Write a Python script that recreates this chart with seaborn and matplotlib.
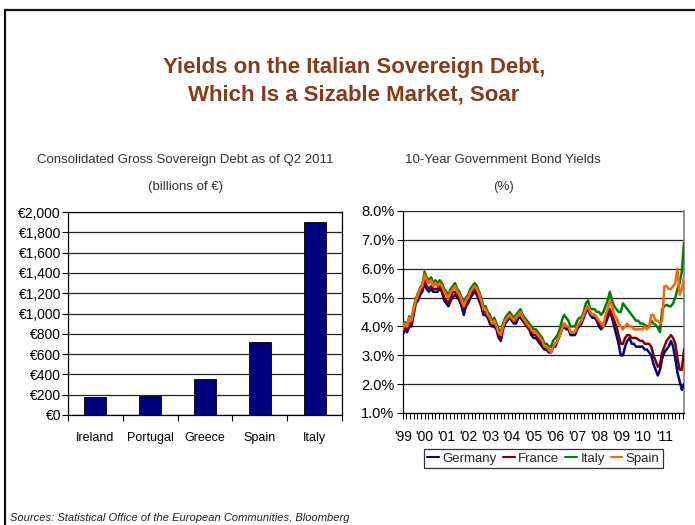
import numpy as np
import pandas as pd
import matplotlib
matplotlib.use("Agg")
import matplotlib.pyplot as plt
from matplotlib.lines import Line2D
from matplotlib.ticker import FuncFormatter, MultipleLocator, FixedLocator
import seaborn as sns

# ---------------- data ----------------
countries = ["Ireland", "Portugal", "Greece", "Spain", "Italy"]
debt_bn_eur = [177, 188, 356, 718, 1905]

# bond yields sampled every 0.1 year from 1999.0 to 2011.9
start_year = 1999.0
step_year = 0.1
germany = [
    3.7, 3.9, 3.8, 4.0, 4.0, 4.4, 4.8, 4.9, 5.1, 5.2,
    5.5, 5.3, 5.2, 5.3, 5.2, 5.2, 5.2, 5.3, 5.2, 4.9,
    4.8, 4.7, 4.9, 5.0, 5.1, 5.0, 4.9, 4.7, 4.4, 4.7,
    4.8, 5.0, 5.1, 5.2, 5.1, 4.9, 4.7, 4.4, 4.4, 4.3,
    4.1, 4.0, 4.0, 3.9, 3.6, 3.5, 3.9, 4.1, 4.2, 4.3,
    4.2, 4.1, 4.1, 4.3, 4.3, 4.2, 4.1, 4.0, 3.9, 3.7,
    3.6, 3.6, 3.5, 3.4, 3.3, 3.2, 3.2, 3.1, 3.1, 3.3,
    3.3, 3.5, 3.7, 3.9, 4.0, 3.9, 3.9, 3.7, 3.7, 3.7,
    3.9, 4.0, 4.1, 4.3, 4.5, 4.6, 4.4, 4.3, 4.3, 4.2,
    4.0, 3.9, 4.0, 4.1, 4.3, 4.5, 4.3, 4.0, 3.7, 3.4,
    3.0, 3.0, 3.3, 3.5, 3.6, 3.4, 3.4, 3.3, 3.3, 3.3,
    3.3, 3.2, 3.2, 3.1, 3.0, 2.7, 2.5, 2.3, 2.5, 2.9,
    3.1, 3.2, 3.3, 3.5, 3.3, 2.9, 2.4, 2.1, 1.8, 2.0,
]
france = [
    3.8, 4.0, 3.9, 4.1, 4.1, 4.5, 4.9, 5.0, 5.2, 5.3,
    5.6, 5.4, 5.3, 5.4, 5.3, 5.3, 5.3, 5.4, 5.3, 5.0,
    4.9, 4.8, 5.0, 5.2, 5.2, 5.1, 5.0, 4.8, 4.6, 4.8,
    4.9, 5.1, 5.2, 5.3, 5.2, 5.0, 4.8, 4.5, 4.5, 4.4,
    4.2, 4.1, 4.1, 4.0, 3.7, 3.6, 4.0, 4.2, 4.3, 4.3,
    4.3, 4.2, 4.2, 4.4, 4.4, 4.3, 4.1, 4.0, 3.9, 3.8,
    3.7, 3.7, 3.6, 3.5, 3.4, 3.3, 3.2, 3.2, 3.1, 3.3,
    3.4, 3.5, 3.7, 3.9, 4.1, 4.0, 3.9, 3.8, 3.8, 3.8,
    4.0, 4.1, 4.2, 4.4, 4.6, 4.7, 4.4, 4.4, 4.4, 4.3,
    4.1, 4.0, 4.1, 4.2, 4.4, 4.6, 4.4, 4.2, 4.0, 3.7,
    3.4, 3.4, 3.6, 3.7, 3.7, 3.6, 3.6, 3.6, 3.55, 3.5,
    3.5, 3.4, 3.4, 3.4, 3.3, 3.0, 2.8, 2.6, 2.7, 3.1,
    3.3, 3.5, 3.6, 3.7, 3.6, 3.4, 2.9, 2.5, 2.5, 3.2,
]
italy = [
    3.95, 4.15, 4.05, 4.35, 4.25, 4.65, 4.95, 5.15, 5.35, 5.45,
    5.9, 5.7, 5.6, 5.7, 5.5, 5.6, 5.5, 5.6, 5.5, 5.3,
    5.2, 5.1, 5.3, 5.4, 5.5, 5.3, 5.2, 5.0, 4.8, 5.0,
    5.1, 5.3, 5.4, 5.5, 5.4, 5.2, 5.0, 4.7, 4.7, 4.5,
    4.4, 4.2, 4.3, 4.1, 3.9, 3.8, 4.1, 4.3, 4.4, 4.5,
    4.4, 4.3, 4.4, 4.5, 4.6, 4.4, 4.3, 4.2, 4.1, 4.0,
    3.9, 3.9, 3.8, 3.7, 3.6, 3.4, 3.4, 3.3, 3.3, 3.5,
    3.6, 3.7, 3.9, 4.2, 4.4, 4.3, 4.2, 4.0, 4.0, 4.0,
    4.2, 4.3, 4.3, 4.5, 4.8, 4.9, 4.6, 4.6, 4.6, 4.5,
    4.5, 4.4, 4.5, 4.7, 4.9, 5.2, 4.9, 4.7, 4.6, 4.5,
    4.5, 4.8, 4.7, 4.6, 4.5, 4.4, 4.3, 4.2, 4.2, 4.1,
    4.1, 4.05, 4.0, 4.0, 4.2, 4.1, 4.05, 3.95, 3.8, 4.6,
    4.7, 4.75, 4.7, 4.7, 4.8, 5.0, 5.3, 5.5, 5.9, 6.9,
]
spain = [
    3.9, 4.1, 4.0, 4.3, 4.2, 4.6, 4.9, 5.1, 5.3, 5.4,
    5.8, 5.6, 5.5, 5.6, 5.4, 5.5, 5.4, 5.5, 5.4, 5.2,
    5.1, 5.0, 5.2, 5.3, 5.4, 5.2, 5.1, 4.9, 4.7, 4.9,
    5.0, 5.2, 5.3, 5.4, 5.3, 5.1, 4.9, 4.6, 4.6, 4.4,
    4.3, 4.1, 4.2, 4.0, 3.8, 3.7, 4.0, 4.2, 4.3, 4.4,
    4.3, 4.2, 4.3, 4.4, 4.5, 4.3, 4.2, 4.1, 4.0, 3.9,
    3.8, 3.8, 3.7, 3.6, 3.5, 3.3, 3.3, 3.2, 3.1, 3.3,
    3.4, 3.5, 3.7, 3.9, 4.1, 4.0, 4.0, 3.8, 3.8, 3.8,
    4.0, 4.1, 4.2, 4.4, 4.6, 4.7, 4.5, 4.4, 4.4, 4.3,
    4.2, 4.1, 4.0, 4.4, 4.6, 4.9, 4.7, 4.4, 4.3, 4.1,
    4.0, 3.9, 4.0, 4.1, 4.0, 4.0, 3.9, 3.9, 3.9, 3.9,
    3.9, 4.0, 3.9, 4.0, 4.4, 4.4, 4.2, 4.2, 4.1, 4.2,
    5.4, 5.4, 5.3, 5.3, 5.4, 5.5, 6.0, 5.1, 5.3, 5.7,
]
series_names = ["Germany", "France", "Italy", "Spain"]
series_colors = ["#000080", "#800000", "#008000", "#FF6600"]
year_labels = ["'99", "'00", "'01", "'02", "'03", "'04", "'05",
               "'06", "'07", "'08", "'09", "'10", "'11"]

# ---------------- style ----------------
sns.set_style("white")
plt.rcParams["font.family"] = ["Liberation Sans", "DejaVu Sans"]

W, H = 695, 525
fig = plt.figure(figsize=(W / 100, H / 100), dpi=100)


def box(x0, y0, x1, y1):
    return [x0 / W, 1 - y1 / H, (x1 - x0) / W, (y1 - y0) / H]


# frame lines (top and left)
fig.add_artist(Line2D([5 / W, 1], [1 - 9.5 / H, 1 - 9.5 / H], color="#111111", lw=1.6,
                      transform=fig.transFigure))
fig.add_artist(Line2D([5 / W, 5 / W], [0, 1 - 9.5 / H], color="#111111", lw=1.6,
                      transform=fig.transFigure))

title_color = "#843C1C"
fig.text(354 / W, 1 - 68 / H, "Yields on the Italian Sovereign Debt,", ha="center", va="center",
         fontsize=16, fontweight="bold", color=title_color)
fig.text(354 / W, 1 - 95 / H, "Which Is a Sizable Market, Soar", ha="center", va="center",
         fontsize=16, fontweight="bold", color=title_color)

sub_color = "#333333"
fig.text(185 / W, 1 - 160 / H, "Consolidated Gross Sovereign Debt as of Q2 2011", ha="center",
         va="center", fontsize=9.5, color=sub_color)
fig.text(185 / W, 1 - 187 / H, "(billions of €)", ha="center", va="center", fontsize=9.5,
         color=sub_color)
fig.text(503 / W, 1 - 160 / H, "10-Year Government Bond Yields", ha="center", va="center",
         fontsize=9.5, color=sub_color)
fig.text(503 / W, 1 - 187 / H, "(%)", ha="center", va="center", fontsize=9.5, color=sub_color)

fig.text(10 / W, 1 - 518 / H, "Sources: Statistical Office of the European Communities, Bloomberg",
         ha="left", va="center", fontsize=8, style="italic", color="#222222")

# ---------------- bar chart ----------------
ax1 = fig.add_axes(box(68, 212, 342, 415))
df_debt = pd.DataFrame({"country": countries, "debt": debt_bn_eur})
sns.barplot(data=df_debt, x="country", y="debt", color="#000080", saturation=1,
            width=0.4, edgecolor="black", linewidth=0.6, ax=ax1, zorder=3)
ax1.set_xlim(-0.5, len(countries) - 0.5)
ax1.set_ylim(0, 2000)
ax1.yaxis.set_major_locator(MultipleLocator(200))
ax1.yaxis.set_major_formatter(FuncFormatter(lambda v, p: "€{:,.0f}".format(v)))
ax1.yaxis.grid(True, color="#222222", lw=0.9, zorder=0)
ax1.xaxis.grid(False)
ax1.set_axisbelow(True)
ax1.set_xlabel("")
ax1.set_ylabel("")
ax1.xaxis.set_minor_locator(FixedLocator(np.arange(-0.5, len(countries), 1.0)))
ax1.tick_params(axis="x", which="major", length=0, pad=12, labelsize=9, colors="black")
ax1.tick_params(axis="x", which="minor", length=4, width=0.8, direction="out", bottom=True,
                color="black")
ax1.tick_params(axis="y", which="major", length=4, width=0.8, direction="out", left=True,
                pad=1, labelsize=10, colors="black")
for s in ["left", "bottom", "top", "right"]:
    ax1.spines[s].set_visible(True)
    ax1.spines[s].set_color("black")
    ax1.spines[s].set_linewidth(0.9)

# ---------------- line chart ----------------
ax2 = fig.add_axes(box(402.7, 211, 684, 413))
n = len(germany)
years = np.round(start_year + step_year * np.arange(n), 2)
df_y = pd.concat([
    pd.DataFrame({"year": years, "yield": vals, "country": name})
    for name, vals in zip(series_names, [germany, france, italy, spain])
], ignore_index=True)
sns.lineplot(data=df_y, x="year", y="yield", hue="country", hue_order=series_names,
             palette=series_colors, lw=1.8, legend=False, errorbar=None, ax=ax2, zorder=3)
ax2.set_xlim(1999.0, 2011.9)
ax2.set_ylim(1.0, 8.0)
ax2.yaxis.set_major_locator(MultipleLocator(1.0))
ax2.yaxis.set_major_formatter(FuncFormatter(lambda v, p: "{:.1f}%".format(v)))
ax2.yaxis.grid(True, color="#222222", lw=0.9, zorder=0)
ax2.xaxis.grid(False)
ax2.set_xticks(np.arange(1999, 2012))
ax2.set_xticklabels(year_labels)
ax2.xaxis.set_minor_locator(MultipleLocator(1 / 6))
ax2.tick_params(axis="x", which="both", length=4, width=0.8, direction="out", bottom=True,
                color="black")
ax2.tick_params(axis="x", which="major", pad=8, labelsize=10, colors="black")
ax2.tick_params(axis="y", which="major", length=4, width=0.8, direction="out", left=True,
                pad=2, labelsize=10.5, colors="black")
ax2.set_xlabel("")
ax2.set_ylabel("")
ax2.spines["top"].set_visible(False)
ax2.spines["right"].set_visible(True)
ax2.spines["right"].set_color("#808080")
ax2.spines["right"].set_linewidth(1.2)
for s in ["left", "bottom"]:
    ax2.spines[s].set_visible(True)
    ax2.spines[s].set_color("black")
    ax2.spines[s].set_linewidth(0.9)

handles = [Line2D([0], [0], color=c, lw=1.5) for c in series_colors]
leg = fig.legend(handles, series_names, loc="center", bbox_to_anchor=(543.5 / W, 1 - 458.5 / H),
                 ncol=4, frameon=True, fancybox=False, edgecolor="black", fontsize=9.5,
                 handlelength=0.9, handletextpad=0.25, columnspacing=0.45, borderpad=0.25,
                 borderaxespad=0)
leg.get_frame().set_linewidth(0.9)

fig.savefig("out.png", dpi=100)
